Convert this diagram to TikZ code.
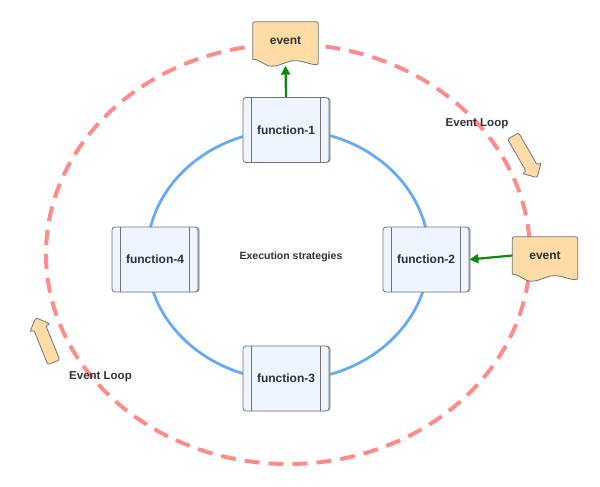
\documentclass[tikz,border=0pt]{standalone}
\usepackage{fontspec}
\setmainfont{Liberation Sans}
\usepackage{tikz}
\usetikzlibrary{positioning,calc,backgrounds,shadows}
\usetikzlibrary{arrows.meta,shapes.arrows}

\definecolor{loopred}{HTML}{FF8C8C}
\definecolor{ringblue}{HTML}{67AAF4}
\definecolor{boxfill}{HTML}{EEF5FE}
\definecolor{boxline}{HTML}{6E7178}
\definecolor{evfill}{HTML}{FFDCA6}
\definecolor{flowgreen}{HTML}{0B8A12}
\definecolor{inktext}{HTML}{2E3138}

\tikzset{
 funcbox/.style={draw=boxline, fill=boxfill, rounded corners=3pt, line width=0.8pt,
   minimum width=86, minimum height=65, inner sep=0pt, text=inktext,
   font=\fontsize{12}{14}\selectfont\bfseries,
   drop shadow={shadow xshift=1.6pt, shadow yshift=0pt, fill=gray!70, opacity=1}},
 evbox/.style={minimum width=65, minimum height=37, inner sep=0pt, text=inktext,
   font=\fontsize{12}{14}\selectfont\bfseries},
 evshape/.style={draw=boxline, fill=evfill, line width=0.8pt},
 looplabel/.style={text=inktext, font=\fontsize{11.5}{14}\selectfont\bfseries},
 flow/.style={flowgreen, line width=2.2pt, -{Triangle[length=9pt,width=9pt]}},
 turn/.style={single arrow, draw=boxline, fill=evfill, line width=0.8pt,
   minimum height=48, inner sep=6pt, single arrow head extend=4.5pt,
   single arrow head indent=0pt, rounded corners=2pt}
}

% document shape with a wavy bottom
\newcommand{\evwave}[1]{%
 \draw[evshape, rounded corners=2pt] ($(#1.south west)$) -- (#1.north west) -- (#1.north east)
   -- ($(#1.south east)+(0,5.5)$) [sharp corners]
   to[out=180,in=0] ($(#1.south east)+(-23,1.5)$)
   to[out=180,in=0] ($(#1.south west)+(19,7)$)
   to[out=180,in=0] ($(#1.south west)+(0,0)$) -- cycle;}

\begin{document}
\begin{tikzpicture}[x=1pt, y=-1pt]
 \useasboundingbox (0,0) rectangle (600,487);

 %functions
 \node[funcbox] (f1) at (286,130) {function-1};
 \node[funcbox] (f2) at (426,259.5) {function-2};
 \node[funcbox] (f3) at (286,378.5) {function-3};
 \node[funcbox] (f4) at (155,259.5) {function-4};
 \foreach \f in {f1,f2,f3,f4} {
   \draw[boxline, line width=0.8pt] ($(\f.north west)+(9,0)$) -- ($(\f.south west)+(9,0)$);
   \draw[boxline, line width=0.8pt] ($(\f.north east)+(-9,0)$) -- ($(\f.south east)+(-9,0)$);
 }

 \node[text=inktext, font=\fontsize{10.5}{12}\selectfont\bfseries] (exec) at (291,257) {Execution strategies};

 %events
 \node[evbox] (ev1) at (285.5,40.5) {event};
 \node[evbox] (ev2) at (545,255.5) {event};
 \coordinate (ev1tip) at ($(ev1.south)+(0,6.5)$);

 %loop labels and turning arrows
 \node[looplabel] (loop1) at (477,124) {Event Loop};
 \node[looplabel] (loop2) at (100.5,377) {Event Loop};
 \node[turn, rotate=-60] (turn1) at (523.5,154) {};
 \node[turn, rotate=112] (turn2) at (46,343) {};

 %rings and event shapes
 \begin{scope}[on background layer]
   \draw[loopred, line width=4pt, dash pattern=on 15pt off 9pt] (288,254) ellipse [x radius=242, y radius=210];
   \draw[ringblue, line width=2.8pt] (288,255) ellipse [x radius=141, y radius=125];
   \evwave{ev1}
   \evwave{ev2}
 \end{scope}

 %flows
 \draw[flow] (f1.north) -- (ev1tip);
 \draw[flow] (ev2.west) -- (f2.east);
\end{tikzpicture}
\end{document}
